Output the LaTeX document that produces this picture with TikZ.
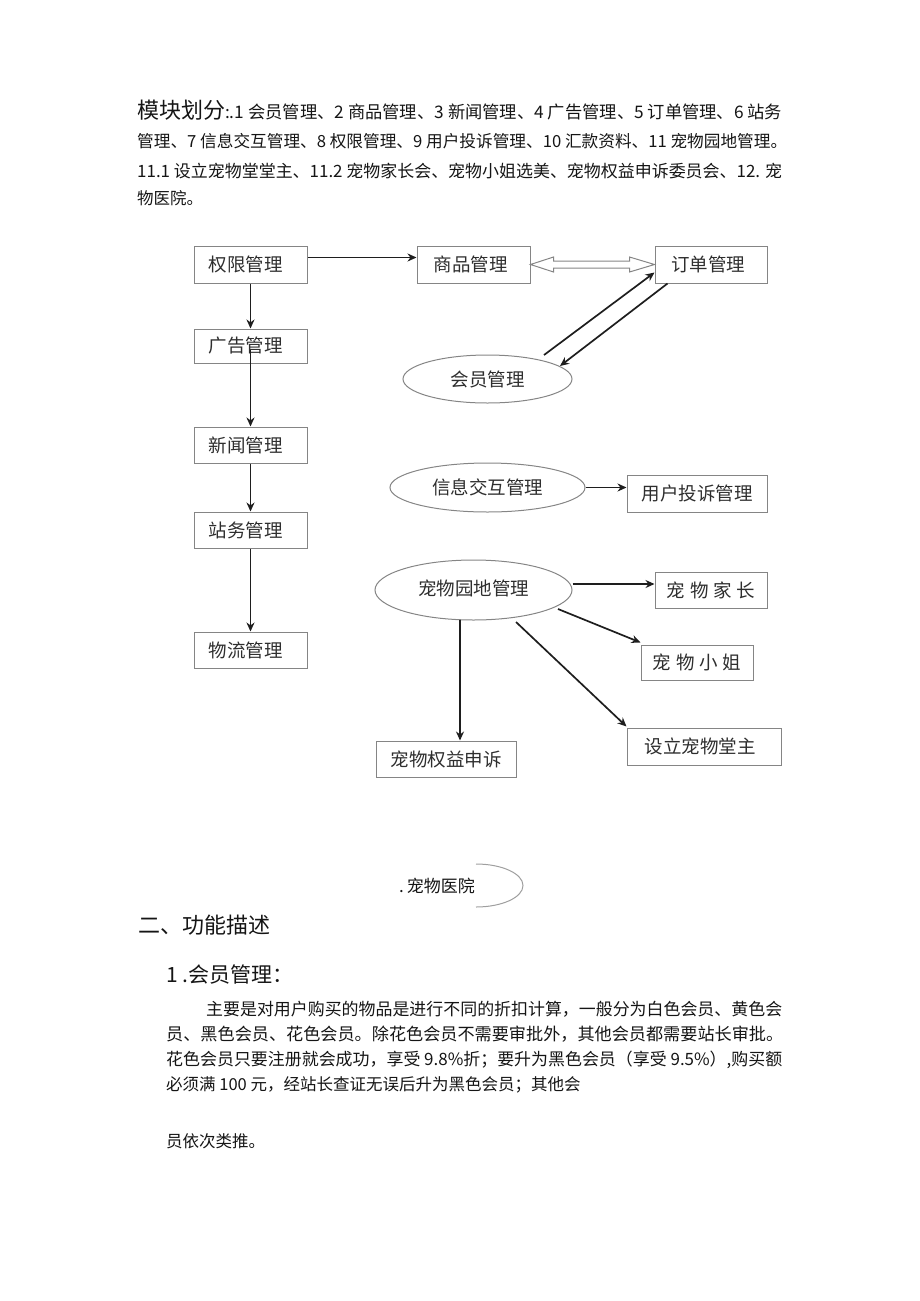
\documentclass[tikz,border=0pt]{standalone}
\usepackage{fontspec}
\usepackage{graphicx}
\setmainfont{Noto Sans CJK SC}
\usetikzlibrary{arrows.meta,shapes.geometric,calc}
\definecolor{boxgray}{HTML}{858585}
\definecolor{inkc}{HTML}{1E1E1E}
\definecolor{txt}{HTML}{151515}
\definecolor{dtxt}{HTML}{2E2E2E}
\newcommand\diagfont{\fontsize{18.5}{18.5}\selectfont}
\newcommand\bodyfont{\fontsize{16.5}{16.5}\selectfont}
\begin{document}
\begin{tikzpicture}[x=1pt,y=-1pt,
  box/.style={draw=boxgray, line width=1pt, inner sep=0pt, font=\diagfont, text=dtxt},
  oval/.style={ellipse, draw=boxgray, line width=1pt, inner sep=0pt, font=\diagfont, text=dtxt},
  arr/.style={draw=inkc, line width=1.7pt, -{Stealth[length=9pt,width=8pt]}},
  hollow/.style={draw=boxgray, line width=1pt, line join=miter},
  textline/.style={anchor=base west, inner sep=0pt, text=txt, font=\bodyfont},
]
\useasboundingbox (0,0) rectangle (920,1301);

% ---- top text ----
\node[textline] (t1) at (137,118.5) {\resizebox{645pt}{!}{{\fontsize{21}{21}\selectfont 模块划分}\bodyfont :.1 会员管理、2 商品管理、3 新闻管理、4 广告管理、5 订单管理、6 站务}};
\node[textline] (t2) at (137,147.5) {\resizebox{650pt}{!}{管理、7 信息交互管理、8 权限管理、9 用户投诉管理、10 汇款资料、11 宠物园地管理。}};
\node[textline] (t3) at (137,177.5) {\resizebox{645pt}{!}{11.1 设立宠物堂堂主、11.2 宠物家长会、宠物小姐选美、宠物权益申诉委员会、12. 宠}};
\node[textline] (t4) at (137,204.5) {物医院。};

% ---- diagram nodes ----
\node[box, minimum width=113pt, minimum height=37pt] (quanxian) at (250.5,264.5) {\hspace*{-10pt}权限管理};
\node[box, minimum width=113pt, minimum height=37pt] (shangpin) at (473.5,264.5) {\hspace*{-6pt}商品管理};
\node[box, minimum width=112pt, minimum height=37pt] (dingdan) at (711,264.5) {\hspace*{-6pt}订单管理};
\node[box, minimum width=113pt, minimum height=34pt] (guanggao) at (250.5,346) {\hspace*{-10pt}广告管理};
\node[box, minimum width=113pt, minimum height=36pt] (xinwen) at (250.5,445) {\hspace*{-10pt}新闻管理};
\node[box, minimum width=113pt, minimum height=36pt] (zhanwu) at (250.5,530) {\hspace*{-10pt}站务管理};
\node[box, minimum width=113pt, minimum height=36pt] (wuliu) at (250.5,650) {\hspace*{-10pt}物流管理};
\node[oval, minimum width=169pt, minimum height=48pt] (huiyuan) at (487.5,379) {会员管理};
\node[oval, minimum width=195pt, minimum height=49pt] (xinxi) at (487.5,487.5) {\raisebox{2pt}{信息交互管理}};
\node[box, minimum width=140pt, minimum height=37pt] (yonghu) at (697,493.5) {用户投诉管理};
\node[oval, minimum width=197pt, minimum height=60pt] (yuandi) at (473.5,590) {\raisebox{4pt}{宠物园地管理}};
\node[box, minimum width=112pt, minimum height=36pt] (jiazhang) at (711,590) {宠\hspace{5pt}物\hspace{5pt}家\hspace{5pt}长};
\node[box, minimum width=112pt, minimum height=35pt] (xiaojie) at (697,662.5) {宠\hspace{5pt}物\hspace{5pt}小\hspace{5pt}姐};
\node[box, minimum width=154pt, minimum height=37pt] (tangzhu) at (704,746.5) {\hspace*{-8pt}设立宠物堂主};
\node[box, minimum width=140pt, minimum height=36pt] (quanyi) at (446,759) {宠物权益申诉};

% ---- connectors ----
\draw[arr] ([yshift=7pt]quanxian.east) -- ([yshift=7pt]shangpin.west);
\draw[arr] (quanxian.south) -- (guanggao.north);
\draw[arr] ([yshift=-4pt]guanggao.center) -- (xinwen.north);
\draw[arr] (xinwen.south) -- (zhanwu.north);
\draw[arr] (zhanwu.south) -- (wuliu.north);

\draw[hollow] (shangpin.east) -- ++(23,-7.5) -- ++(0,4)
  -- ($(dingdan.west)+(-25,-3.5)$) -- ++(0,-4) -- (dingdan.west)
  -- ++(-25,7.5) -- ++(0,-4) -- ($(shangpin.east)+(23,3.5)$) -- ++(0,4) -- cycle;

\draw[arr] ($(huiyuan.center)+(56.5,-24)$) -- ($(dingdan.south west)+(0,-11)$);
\draw[arr] ($(dingdan.south west)+(13,0)$) -- ($(huiyuan.center)+(72.5,-13)$);

\draw[arr] (xinxi.east) -- (xinxi.east -| yonghu.west);

\draw[arr] ([yshift=6pt]yuandi.east) -- ([yshift=6pt]yuandi.east -| jiazhang.west);
\draw[arr] ($(yuandi.center)+(84.5,19)$) -- ($(xiaojie.north west)+(0,-2)$);
\draw[arr] ($(yuandi.center)+(42.5,32)$) -- ($(tangzhu.north west)+(0,-1)$);
\draw[arr] ($(yuandi.center)+(-13.5,30)$) -- ($(quanyi.north)+(14,0)$);

% ---- pet hospital ----
\node[anchor=east, inner sep=0pt, text=txt, font=\fontsize{17}{17}\selectfont] (yiyuan) at (475,885.5) {.\,宠物医院};
\draw[draw=gray!75, line width=1pt] (yiyuan.east) ++(1,-21.5) arc[start angle=90, end angle=-90, x radius=47pt, y radius=21.5pt];

% ---- bottom text ----
\node[textline, font=\fontsize{22}{22}\selectfont] (h2) at (138,933) {二、功能描述};
\node[textline, font=\fontsize{21}{21}\selectfont] (h3) at (166,982) {1\hspace{5pt}.会员管理：};
\node[textline] (p1) at (206,1015.5) {\resizebox{576pt}{!}{主要是对用户购买的物品是进行不同的折扣计算，一般分为白色会员、黄色会}};
\node[textline] (p2) at (166,1040.5) {\resizebox{617pt}{!}{员、黑色会员、花色会员。除花色会员不需要审批外，其他会员都需要站长审批。}};
\node[textline] (p3) at (166,1065.5) {\resizebox{616pt}{!}{花色会员只要注册就会成功，享受 9.8\%折；要升为黑色会员（享受 9.5\%）,购买额}};
\node[textline] (p4) at (166,1090.5) {必须满 100 元，经站长查证无误后升为黑色会员；其他会};
\node[textline] (p5) at (166,1147.5) {员依次类推。};
\end{tikzpicture}
\end{document}
